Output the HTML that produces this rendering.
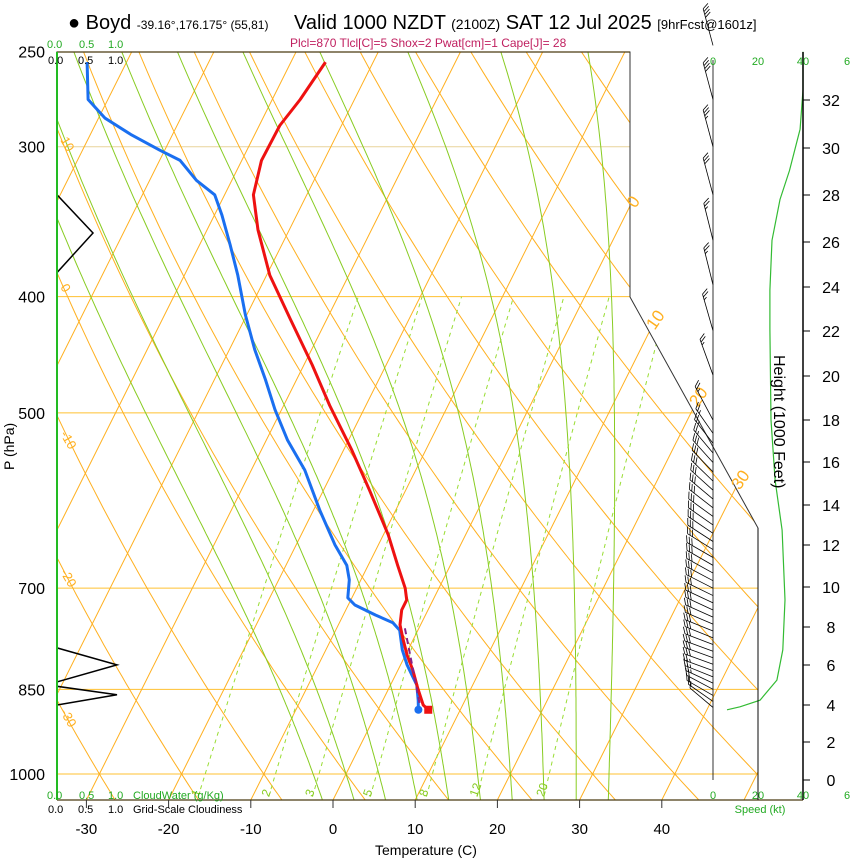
<!DOCTYPE html>
<html><head><meta charset="utf-8"><style>
html,body{margin:0;padding:0;background:#fff;}
svg{display:block;font-family:"Liberation Sans",sans-serif;}
</style></head><body>
<svg id="chart" width="850" height="860" viewBox="0 0 850 860" xmlns="http://www.w3.org/2000/svg">
<defs><clipPath id="plotclip"><polygon points="57,52 630,52 630,297 758,528 758,800 57,800"/></clipPath></defs>
<rect x="0" y="0" width="850" height="860" fill="#fff"/>
<g id="grid" clip-path="url(#plotclip)"></g>
<g id="series"></g>
<g id="axes"></g>
<g id="barbs"></g>

<text x="68" y="29" font-size="20">● Boyd <tspan font-size="12">-39.16°,176.175° (55,81)</tspan></text>
<text x="294" y="29" font-size="20">Valid 1000 NZDT <tspan font-size="14">(2100Z)</tspan> SAT 12 Jul 2025 <tspan font-size="13">[9hrFcst@1601z]</tspan></text>
<text x="290" y="47" font-size="12" fill="#c02060">Plcl=870 Tlcl[C]=5 Shox=2 Pwat[cm]=1 Cape[J]= 28</text>

<g font-size="11" fill="#22aa22">
<text x="47" y="48">0.0</text><text x="79" y="48">0.5</text><text x="108" y="48">1.0</text></g>
<g font-size="11" fill="#000">
<text x="48" y="64">0.0</text><text x="78" y="64">0.5</text><text x="108" y="64">1.0</text></g>
<g font-size="11" fill="#22aa22">
<text x="47" y="799">0.0</text><text x="79" y="799">0.5</text><text x="108" y="799">1.0</text><text x="133" y="799">CloudWater (g/Kg)</text></g>
<g font-size="11" fill="#000">
<text x="48" y="813">0.0</text><text x="78" y="813">0.5</text><text x="108" y="813">1.0</text><text x="133" y="813">Grid-Scale Cloudiness</text></g>
<g font-size="11" fill="#22aa22" text-anchor="middle">
<text x="713" y="65">0</text><text x="758" y="65">20</text><text x="803" y="65">40</text><text x="847" y="65">6</text></g>
<g font-size="11" fill="#22aa22" text-anchor="middle">
<text x="713" y="799">0</text><text x="758" y="799">20</text><text x="803" y="799">40</text><text x="847" y="799">6</text>
<text x="760" y="813">Speed (kt)</text></g>
<text x="375" y="855" font-size="14">Temperature (C)</text>
<text transform="translate(14,470) rotate(-90)" font-size="14">P (hPa)</text>
<text transform="translate(774,355) rotate(90)" font-size="16">Height (1000 Feet)</text>

<script>
const NS="http://www.w3.org/2000/svg";
// ---- data arrays ----
const tempTicks=[-30,-20,-10,0,10,20,30,40];
const presTicks=[250,300,400,500,700,850,1000];
const heightTicks=[0,2,4,6,8,10,12,14,16,18,20,22,24,26,28,30,32];
const heightTickY=[780,742,705,665,627,587,545,505,462,420,376,331,287,242,195,148,100];
const isotherms=[-110,-100,-90,-80,-70,-60,-50,-40,-30,-20,-10,0,10,20,30,40,50];
const dryAdiabats=[-30,-20,-10,0,10,20,30,40,50,60,70,80,90,100,110,120,130,140,150,160,170,180];
const moistAdiabats=[-4,0,4,8,12,16,20,24,28,32];
const mixRatios=[1,2,3,5,8,12,20];
const tempP=[255,274,288,308,329,352,384,418,456,493,537,580,632,670,700,716,730,751,773,796,819,848,876,884];
const tempT=[-45.8,-46.6,-47.5,-47.6,-46.5,-43.8,-39.6,-34.4,-29.0,-24.4,-19.0,-14.4,-9.4,-6.4,-4.1,-3.2,-3.2,-2.5,-1.2,0.2,1.8,3.5,5.2,6.1];
const dewP=[255,274,284,293,302,308,320,329,342,362,384,414,443,469,497,527,558,603,644,670,689,713,723,737,748,759,788,811,827,843,868,884];
const dewT=[-74.8,-72.4,-69.2,-65.1,-60.6,-57.5,-54.3,-51.2,-49.1,-46.3,-43.5,-40.2,-36.9,-33.8,-30.8,-27.4,-23.5,-19.2,-15.3,-12.6,-11.4,-10.5,-9.2,-6.1,-3.5,-2.2,-0.7,0.8,2.0,3.2,4.3,4.9];
const parcelP=[756,811,876];
const parcelT=[-1.7,1.4,4.8];
const speedP=[250,269,290,314,332,359,395,426,507,569,626,716,788,835,868,879,884];
const speedKt=[40,40,38.7,34,29.8,26.2,25.3,25.3,25.8,27.6,30.7,32,31,28.4,20.9,12,6.2];
const cloudP=[250,329,354,382,785,811,838,845,859,876,1050];
const cloudFrac=[0,0,0.6,0,0,1.0,0,0,1.0,0,0];
const barbP=[247,274,300,329,359,391,427,465,507,520,530,540,550,560,570,580,590,600,610,620,630,640,650,660,670,680,690,700,710,720,730,740,750,760,770,780,790,800,810,820,830,840,850,860,870,880];
const barbSpd=[40,40,35,30,25,25,25,25,25,26,27,27,28,28,29,29,30,30,31,31,31,32,32,32,32,32,32,32,32,32,31,31,31,31,31,30,30,29,28,27,26,24,22,18,14,8];
const barbDir=[345,345,345,345,346,346,344,340,332,325,322,320,318,316,314,312,310,308,306,305,304,303,302,300,300,299,298,297,296,295,295,294,293,292,292,291,290,290,290,290,292,295,298,300,305,310];

// ---- axis functions ----
function yP(p){return 774-521*Math.log(1000/p);}
function xTY(T,y){return 333+8.22*T+0.5*(800-y);}
function xT(T,p){return xTY(T,yP(p));}
function xSpd(s){return 713+2.25*s;}
function xCloud(c){return 57+60*c;}

function mk(tag,attrs,parent){const e=document.createElementNS(NS,tag);for(const k in attrs)e.setAttribute(k,attrs[k]);parent.appendChild(e);return e;}
const grid=document.getElementById('grid'),series=document.getElementById('series'),axes=document.getElementById('axes'),barbs=document.getElementById('barbs');
function pts(arr){return arr.map(a=>a[0].toFixed(1)+','+a[1].toFixed(1)).join(' ');}

// isobars
presTicks.forEach(p=>{const y=yP(p);
 const l=mk('line',{x1:57,y1:y,x2:760,y2:y,stroke:p===300?'#e8d49a':'#ffc030','stroke-width':1},grid);
 
 
});
// isotherms
isotherms.forEach(T=>{
 const l=mk('line',{x1:xTY(T,800),y1:800,x2:xTY(T,52),y2:52,stroke:'#ffb020','stroke-width':1},grid);
 
 
});
// dry adiabats
dryAdiabats.forEach(th=>{const a=[];for(let p=1060;p>=240;p-=10){const T=(th+273.15)*Math.pow(p/1000,0.2857)-273.15;a.push([xT(T,p),yP(p)]);}
 const l=mk('polyline',{points:pts(a),fill:'none',stroke:'#ffb020','stroke-width':1},grid);
 
 
});
// moist adiabats
function es(Tc){return 6.112*Math.exp(17.67*Tc/(Tc+243.5));}
function dTdp(Tk,p){const Tc=Tk-273.15,e=es(Tc),rs=0.622*e/(p-e),Lv=2.5e6,Rd=287,cp=1005;
 return (Rd*Tk+Lv*rs)/(p*(cp+Lv*Lv*rs*0.622/(Rd*Tk*Tk)));}
moistAdiabats.forEach(tw=>{const up=[],dn=[];let T=tw+273.15;
 for(let p=1000;p>=240;p-=5){up.push([xT(T-273.15,p),yP(p)]);T-=dTdp(T,p)*5;}
 T=tw+273.15;for(let p=1000;p<=1060;p+=5){dn.unshift([xT(T-273.15,p),yP(p)]);T+=dTdp(T,p)*5;}
 const l=mk('polyline',{points:pts(dn.concat(up)),fill:'none',stroke:'#88cc22','stroke-width':1},grid);
 
 
});
// mixing ratio
mixRatios.forEach(w=>{const a=[];for(let p=1060;p>=400;p-=10){const e=w*p/(622+w),L=Math.log(e/6.112),Td=243.5*L/(17.67-L);a.push([xT(Td,p),yP(p)]);}
 const l=mk('polyline',{points:pts(a),fill:'none',stroke:'#99dd33','stroke-width':1,'stroke-dasharray':'4,4'},grid);
 
 
 const lp=1030,e=w*lp/(622+w),L=Math.log(e/6.112),Td=243.5*L/(17.67-L);
 const t=mk('text',{transform:'translate('+(xT(Td,lp)-2)+','+(yP(lp)+8)+') rotate(-70)','font-size':12,fill:'#88cc22'},axes);
 t.textContent=w;
 
 
});
// plot frame
const fr=mk('polyline',{points:'57,800 57,52 630,52 630,297 758,528 758,800',fill:'none',stroke:'#333','stroke-width':1},axes);


mk('line',{x1:57,y1:52,x2:630,y2:52,stroke:'#4a3a10','stroke-width':1.2},axes);
const bf=mk('line',{x1:57,y1:800,x2:803,y2:800,stroke:'#4a3a10','stroke-width':1.2},axes);


const gl=mk('line',{x1:57,y1:52,x2:57,y2:800,stroke:'#22bb22','stroke-width':2},axes);


// temp ticks
tempTicks.forEach(T=>{const x=xTY(T,800);
 mk('line',{x1:x,y1:800,x2:x,y2:808,stroke:'#333'},axes);
 const t=mk('text',{x:x,y:834,'font-size':15,'text-anchor':'middle'},axes);t.textContent=T;
 
 
});
presTicks.forEach(p=>{const t=mk('text',{x:45,y:yP(p)+6,'font-size':16,'text-anchor':'end'},axes);t.textContent=p;
 
 
});
// height axis
mk('line',{x1:803,y1:52,x2:803,y2:800,stroke:'#000','stroke-width':1.5},axes);
heightTicks.forEach((h,i)=>{const y=heightTickY[i];mk('line',{x1:803,y1:y,x2:810,y2:y,stroke:'#000'},axes);
 const t=mk('text',{x:831,y:y+6,'font-size':16,'text-anchor':'middle'},axes);t.textContent=h;
 
 
});
// isotherm / adiabat labels
[[0,638,205],[10,660,323],[20,703,400],[30,745,483]].forEach(a=>{const t=mk('text',{transform:'translate('+a[1]+','+a[2]+') rotate(-55)','font-size':17,fill:'#ffb020','text-anchor':'middle'},axes);t.textContent=a[0];
 
 });
[[10,60,140],[0,60,287],[-10,60,434],[-20,60,572],[-30,60,712]].forEach(a=>{const t=mk('text',{transform:'translate('+a[1]+','+a[2]+') rotate(60)','font-size':13,fill:'#ffb020'},axes);t.textContent=a[0];
 
 });
// barb column line
mk('line',{x1:713,y1:60,x2:713,y2:780,stroke:'#000','stroke-width':0.8},barbs);
mk('line',{x1:758,y1:528,x2:758,y2:800,stroke:'#000','stroke-width':0.8},barbs);

// series
function drawLine(P,V,fn,attrs,name){const a=P.map((p,i)=>[fn(V[i],p),yP(p)]);
 const l=mk('polyline',Object.assign({points:pts(a),fill:'none'},attrs),series);
 
 return a;}
drawLine(cloudP,cloudFrac,(c)=>xCloud(c),{stroke:'#000','stroke-width':1.5},'cloudiness-line');
drawLine(speedP,speedKt,(s)=>xSpd(s),{stroke:'#33bb33','stroke-width':1.2},'wind-speed-line');
const dw=drawLine(dewP,dewT,xT,{stroke:'#1a6ff0','stroke-width':3,'stroke-linejoin':'round'},'dewpoint-line');
const tp=drawLine(tempP,tempT,xT,{stroke:'#ee1111','stroke-width':3,'stroke-linejoin':'round'},'temperature-line');
drawLine(parcelP,parcelT,xT,{stroke:'#882288','stroke-width':2,'stroke-dasharray':'6,4'},'parcel-line');
const dl=dw[dw.length-1],tl=tp[tp.length-1];
const dm=mk('circle',{cx:dl[0],cy:dl[1],r:4,fill:'#1a6ff0'},series);


const tm=mk('rect',{x:tl[0]-4,y:tl[1]-4,width:8,height:8,fill:'#ee1111'},series);



// barbs
barbP.forEach((p,i)=>{const y=yP(p),th=barbDir[i]*Math.PI/180,ux=Math.sin(th),uy=-Math.cos(th),L=p<510?38:30;
 const tx=713+L*ux,ty=y+L*uy,px=-uy,py=ux;
 const g=mk('g',{stroke:'#000','stroke-width':0.8,fill:'none'},barbs);
 
 
 mk('line',{x1:713,y1:y,x2:tx,y2:ty},g);
 let s=Math.round(barbSpd[i]/5)*5,k=0;
 while(s>=10){const bx=tx-k*3*ux,by=ty-k*3*uy;mk('line',{x1:bx,y1:by,x2:bx+6*px+4*ux,y2:by+6*py+4*uy},g);s-=10;k++;}
 if(s>=5){const bx=tx-k*3*ux,by=ty-k*3*uy;mk('line',{x1:bx,y1:by,x2:bx+3*px+2*ux,y2:by+3*py+2*uy},g);}
});
</script>
</svg>
</body></html>
